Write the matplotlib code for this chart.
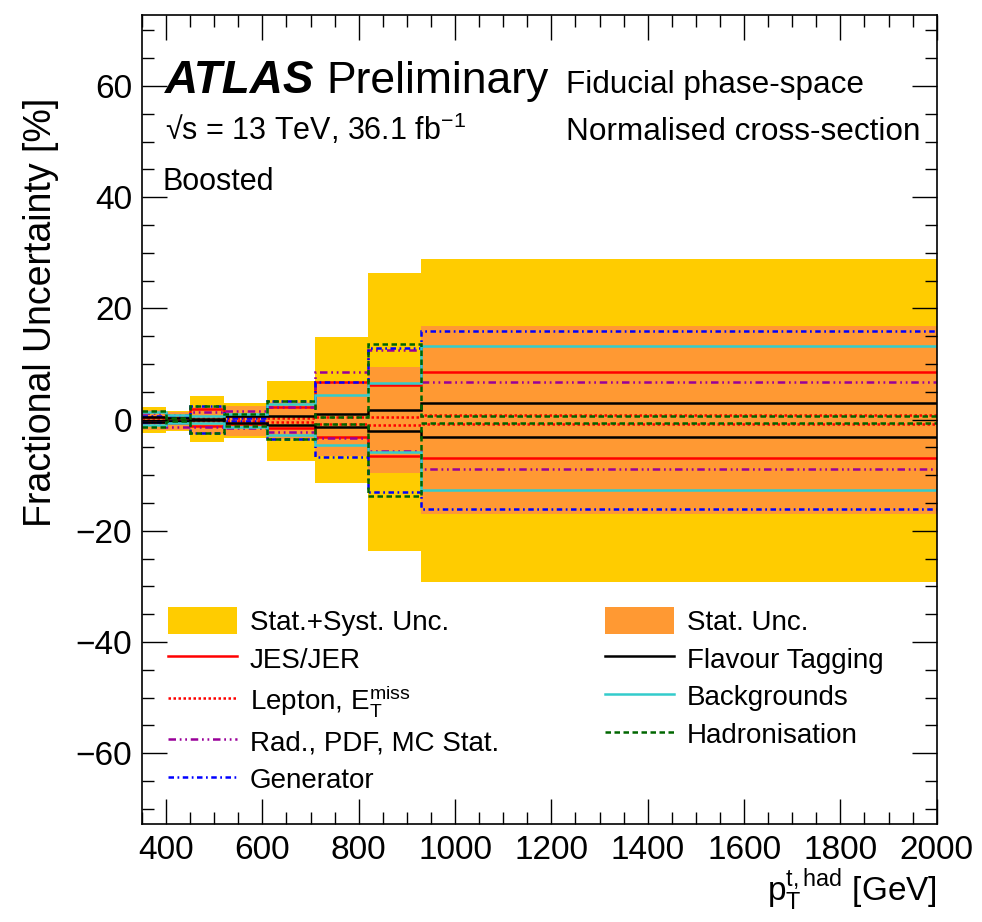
import matplotlib
matplotlib.use("Agg")
import matplotlib.pyplot as plt
from matplotlib.ticker import MultipleLocator
from matplotlib.patches import Patch
from matplotlib.lines import Line2D

plt.rcParams['font.family'] = ['Liberation Sans', 'DejaVu Sans']
plt.rcParams['mathtext.fontset'] = 'custom'
plt.rcParams['mathtext.rm'] = 'Liberation Sans'
plt.rcParams['mathtext.it'] = 'Liberation Sans:italic'
plt.rcParams['mathtext.bf'] = 'Liberation Sans:bold'

# ---------------------------------------------------------------------
# Data: bin edges (GeV) and up/down fractional uncertainties (%)
# ---------------------------------------------------------------------
edges = [350, 400, 450, 520, 610, 710, 820, 930, 2000]

total_up = [2.3, 1.6, 4.3, 2.9, 7.0, 14.9, 26.3, 28.9]
total_dn = [-2.5, -2.0, -4.1, -3.3, -7.5, -11.4, -23.7, -29.2]
stat_up = [1.8, 1.3, 2.2, 2.5, 3.1, 6.8, 9.4, 16.9]
stat_dn = [-1.8, -1.8, -2.6, -2.9, -3.5, -6.6, -9.6, -17.0]

jes_up = [0.4, 0.5, 1.9, 0.6, 2.2, 6.8, 6.2, 8.6]
jes_dn = [-0.4, -0.6, -1.1, -0.8, -1.6, -3.2, -6.5, -6.9]
lep_up = [0.3, 0.2, 0.2, 0.3, 0.3, 0.5, 0.4, 0.8]
lep_dn = [-0.3, -0.2, -0.2, -0.3, -0.4, -0.8, -0.9, -0.8]
rad_up = [1.1, 0.8, 1.3, 1.6, 2.2, 8.6, 12.5, 6.7]
rad_dn = [-0.7, -1.4, -1.4, -1.5, -2.3, -3.3, -5.7, -8.9]
gen_up = [0.7, 0.5, 2.5, 0.2, 3.3, 6.8, 12.8, 16.0]
gen_dn = [-0.4, -0.3, -2.5, -0.2, -3.5, -6.8, -13.1, -16.1]
ftag_up = [0.5, 0.2, 0.1, 0.6, 0.6, 1.0, 1.7, 2.9]
ftag_dn = [-0.4, -0.2, -0.1, -0.6, -0.9, -1.3, -2.0, -3.2]
bkg_up = [1.3, 0.9, 0.7, 1.0, 2.7, 4.4, 6.5, 13.3]
bkg_dn = [-1.0, -0.6, -0.6, -1.3, -2.8, -4.6, -5.9, -12.6]
had_up = [1.5, 0.3, 2.5, 1.0, 3.4, 0.5, 13.6, 0.7]
had_dn = [-1.4, -0.3, -2.5, -1.1, -3.5, -0.8, -13.8, -0.7]

# colours / styles
c_total = '#FFCC00'
c_stat = '#FF9933'
lw = 1.8
styles = {
    'JES/JER': dict(color='#FF0000', ls='-'),
    'Lepton': dict(color='#FF0000', ls=(0, (1, 1))),
    'Rad': dict(color='#990099', ls=(0, (3, 1.5, 0.7, 1.5, 0.7, 1.5))),
    'Generator': dict(color='#0000FF', ls=(0, (2.2, 1.4, 0.7, 1.4))),
    'Flavour': dict(color='#000000', ls='-'),
    'Backgrounds': dict(color='#33CCCC', ls='-'),
    'Hadronisation': dict(color='#006600', ls=(0, (2.2, 1.4))),
}

fig = plt.figure(figsize=(9.82, 9.22), dpi=100)
ax = fig.add_axes([0.1446, 0.106, 0.8093, 0.878])

# bands
ax.stairs(total_up, edges, baseline=total_dn, fill=True, color=c_total, lw=0)
ax.stairs(stat_up, edges, baseline=stat_dn, fill=True, color=c_stat, lw=0)

# systematic lines
sources = [
    ('JES/JER', jes_up, jes_dn),
    ('Lepton', lep_up, lep_dn),
    ('Rad', rad_up, rad_dn),
    ('Generator', gen_up, gen_dn),
    ('Flavour', ftag_up, ftag_dn),
    ('Backgrounds', bkg_up, bkg_dn),
    ('Hadronisation', had_up, had_dn),
]
for name, up, dn in sources:
    st = styles[name]
    for vals in (up, dn):
        ax.stairs(vals, edges, baseline=None, color=st['color'],
                  linestyle=st['ls'], lw=lw)

ax.set_xlim(350, 2000)
ax.set_ylim(-72.8, 72.8)

ax.xaxis.set_major_locator(MultipleLocator(200))
ax.xaxis.set_minor_locator(MultipleLocator(50))
ax.yaxis.set_major_locator(MultipleLocator(20))
ax.yaxis.set_minor_locator(MultipleLocator(5))
ax.tick_params(which='both', direction='in', top=True, right=True, width=1.0,
               labelsize=24)
ax.tick_params(which='major', length=18)
ax.tick_params(which='minor', length=8.5)
ax.tick_params(axis='x', pad=8)
ax.tick_params(axis='y', pad=7)
for sp in ax.spines.values():
    sp.set_linewidth(1.2)

ax.set_ylabel('Fractional Uncertainty [%]', fontsize=27, loc='top')
ax.yaxis.set_label_coords(-0.105, 0.897)
ax.set_xlabel(r'$\mathrm{p}_{\mathrm{T}}^{\mathrm{t,had}}$ [GeV]', fontsize=24, loc='right')
ax.xaxis.set_label_coords(1.0, -0.052)

# labels
ax.text(0.029, 0.903, 'ATLAS', fontsize=33, weight='bold', style='italic',
        transform=ax.transAxes, va='baseline')
ax.text(0.2315, 0.903, 'Preliminary', fontsize=32, transform=ax.transAxes, va='baseline')
ax.text(0.5335, 0.903, 'Fiducial phase-space', fontsize=22.7, transform=ax.transAxes,
        va='baseline')
ax.text(0.029, 0.845, '√s = 13 TeV, 36.1 fb$^{-1}$', fontsize=22,
        transform=ax.transAxes, va='baseline')
ax.text(0.5335, 0.845, 'Normalised cross-section', fontsize=22.7,
        transform=ax.transAxes, va='baseline')
ax.text(0.026, 0.783, 'Boosted', fontsize=22, transform=ax.transAxes, va='baseline')

# legend (two columns, filled column-wise)
def line_handle(name):
    st = styles[name]
    return Line2D([], [], color=st['color'], linestyle=st['ls'], lw=lw)

handles = [
    Patch(facecolor=c_total, edgecolor='none'),
    line_handle('JES/JER'),
    line_handle('Lepton'),
    line_handle('Rad'),
    line_handle('Generator'),
    Patch(facecolor=c_stat, edgecolor='none'),
    line_handle('Flavour'),
    line_handle('Backgrounds'),
    line_handle('Hadronisation'),
]
labels = [
    'Stat.+Syst. Unc.',
    'JES/JER',
    r'Lepton, $\mathrm{E}_{\mathrm{T}}^{\mathrm{miss}}$',
    'Rad., PDF, MC Stat.',
    'Generator',
    'Stat. Unc.',
    'Flavour Tagging',
    'Backgrounds',
    'Hadronisation',
]
ax.legend(handles, labels, ncol=2, loc='upper left', bbox_to_anchor=(0.0327, 0.268),
          frameon=False, fontsize=20, borderpad=0, borderaxespad=0,
          handlelength=2.5, handleheight=1.1, handletextpad=0.45,
          labelspacing=0.32, columnspacing=3.8)

fig.savefig('out.png', dpi=100)
